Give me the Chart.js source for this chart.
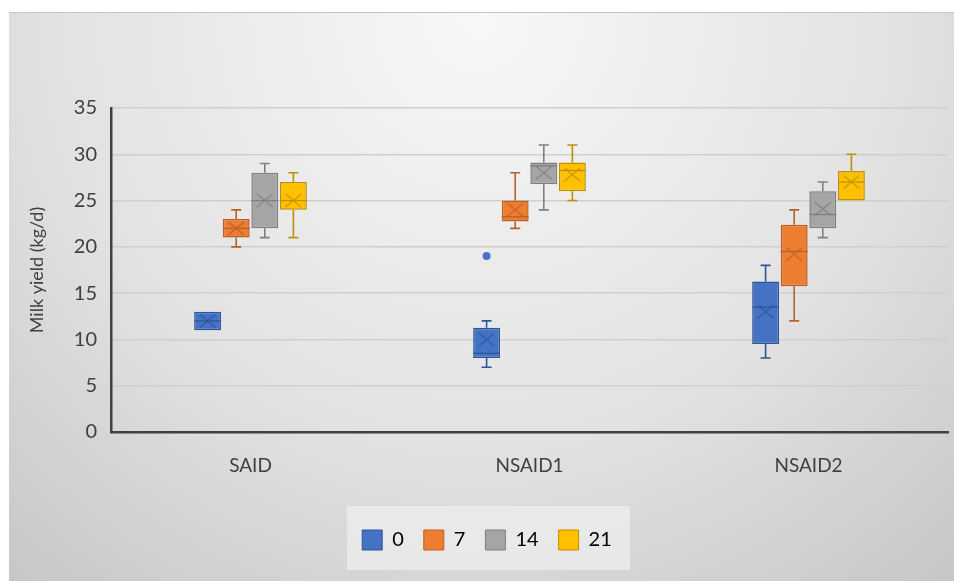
<!DOCTYPE html>
<html>
<head>
<meta charset="utf-8">
<script src="https://cdn.jsdelivr.net/npm/chart.js@4"></script>
<style>
  html, body { margin: 0; padding: 0; background: #ffffff; }
  #wrap { width: 954px; height: 581px; }
</style>
</head>
<body>
<div id="wrap"><canvas id="milkChart" width="954" height="581"></canvas></div>
<script>
// Groups and days
const groups = ['SAID', 'NSAID1', 'NSAID2'];
const days = ['0', '7', '14', '21'];

// Five-number summaries per day, one value per group
const minVals    = [[11, 7, 8],        [20, 22, 12],       [21, 24, 21],      [21, 25, 25]];
const q1Vals     = [[11, 8, 9.5],      [21, 22.75, 15.75], [22, 26.75, 22],   [24, 26, 25]];
const medianVals = [[12, 8.5, 13.5],   [22, 23.25, 19.5],  [25, 28.75, 23.5], [25, 28.25, 27]];
const q3Vals     = [[13, 11.25, 16.25],[23, 25, 22.4],     [28, 29.1, 26],    [27, 29.1, 28.2]];
const maxVals    = [[13, 12, 18],      [24, 28, 24],       [29, 31, 27],      [28, 31, 30]];
const meanVals   = [[12, 10, 13],      [22, 24, 19.2],     [25, 28, 24.1],    [25, 27.8, 27]];
// Outliers: [group index, value]
const outliers   = [[[1, 19]], [], [], []];

const yTicks = [0, 5, 10, 15, 20, 25, 30, 35];

const fillColors   = ['#4472C4', '#ED7D31', '#A5A5A5', '#FFC000'];
const strokeColors = ['#2F5597', '#B8602A', '#7F7F7F', '#BF9000'];

const FONT = 'Lato, "Open Sans", sans-serif';

// Background panel and legend frame
const backgroundPlugin = {
  id: 'panelBackground',
  beforeDraw(chart) {
    const ctx = chart.ctx;
    const w = chart.width, h = chart.height;
    ctx.save();
    ctx.fillStyle = '#ffffff';
    ctx.fillRect(0, 0, w, h);
    const g = ctx.createRadialGradient(w / 2, 20, 10, w / 2, 20, 760);
    g.addColorStop(0, '#f7f7f7');
    g.addColorStop(0.55, '#e2e2e2');
    g.addColorStop(1, '#c4c4c4');
    ctx.fillStyle = g;
    ctx.fillRect(9, 12, w - 9, h - 12);
    ctx.strokeStyle = '#c4c4c4';
    ctx.lineWidth = 1;
    ctx.beginPath();
    ctx.moveTo(9, 12.5);
    ctx.lineTo(w, 12.5);
    ctx.stroke();

    // legend frame
    ctx.fillStyle = 'rgba(235,235,235,0.85)';
    ctx.fillRect(347, 506, 283, 64);
    ctx.restore();
  }
};

// Whiskers, medians, mean markers and outliers drawn over the floating bars
const boxPlotPlugin = {
  id: 'boxWhiskers',
  afterDatasetsDraw(chart) {
    const ctx = chart.ctx;
    const y = chart.scales.y;
    ctx.save();
    chart.data.datasets.forEach((ds, di) => {
      const meta = chart.getDatasetMeta(di);
      ctx.strokeStyle = strokeColors[di];
      ctx.fillStyle = fillColors[di];
      meta.data.forEach((bar, gi) => {
        const cx = bar.x;
        const half = bar.width / 2;
        const yQ1 = y.getPixelForValue(q1Vals[di][gi]);
        const yQ3 = y.getPixelForValue(q3Vals[di][gi]);
        const yMin = y.getPixelForValue(minVals[di][gi]);
        const yMax = y.getPixelForValue(maxVals[di][gi]);
        const yMed = y.getPixelForValue(medianVals[di][gi]);
        const yMean = y.getPixelForValue(meanVals[di][gi]);
        const cap = 5;

        ctx.lineWidth = 1.6;
        ctx.beginPath();
        if (yMax < yQ3 - 0.5) {
          ctx.moveTo(cx, yQ3); ctx.lineTo(cx, yMax);
          ctx.moveTo(cx - cap, yMax); ctx.lineTo(cx + cap, yMax);
        }
        if (yMin > yQ1 + 0.5) {
          ctx.moveTo(cx, yQ1); ctx.lineTo(cx, yMin);
          ctx.moveTo(cx - cap, yMin); ctx.lineTo(cx + cap, yMin);
        }
        ctx.stroke();

        // median line
        ctx.lineWidth = 1.3;
        ctx.beginPath();
        ctx.moveTo(cx - half, yMed);
        ctx.lineTo(cx + half, yMed);
        ctx.stroke();

        // mean marker (X)
        const mx = half * 0.58, my = 6.5;
        ctx.globalAlpha = 0.75;
        ctx.lineWidth = 1.4;
        ctx.beginPath();
        ctx.moveTo(cx - mx, yMean - my); ctx.lineTo(cx + mx, yMean + my);
        ctx.moveTo(cx - mx, yMean + my); ctx.lineTo(cx + mx, yMean - my);
        ctx.stroke();
        ctx.globalAlpha = 1;
      });

      outliers[di].forEach(([gi, v]) => {
        const bar = meta.data[gi];
        ctx.beginPath();
        ctx.arc(bar.x, y.getPixelForValue(v), 4, 0, Math.PI * 2);
        ctx.fill();
      });
    });
    ctx.restore();
  }
};

const datasets = days.map((d, di) => ({
  label: d,
  data: groups.map((g, gi) => [q1Vals[di][gi], q3Vals[di][gi]]),
  backgroundColor: fillColors[di],
  borderColor: strokeColors[di],
  borderWidth: 1.5,
  borderSkipped: false,
  barPercentage: 0.94,
  categoryPercentage: 0.41
}));

new Chart(document.getElementById('milkChart'), {
  type: 'bar',
  data: { labels: groups, datasets: datasets },
  options: {
    responsive: false,
    animation: false,
    devicePixelRatio: 1,
    layout: { padding: { left: 26, right: 6, top: 108, bottom: 21 } },
    plugins: {
      tooltip: { enabled: false },
      legend: {
        position: 'bottom',
        labels: {
          color: '#404040',
          font: { family: FONT, size: 20 },
          boxWidth: 20,
          boxHeight: 20,
          padding: 20,
          generateLabels(chart) {
            return days.map((d, i) => ({
              text: d,
              fillStyle: fillColors[i],
              strokeStyle: strokeColors[i],
              lineWidth: 1,
              datasetIndex: i
            }));
          }
        }
      }
    },
    scales: {
      x: {
        afterFit(scale) { scale.height = 78; },
        grid: { display: false, drawTicks: false },
        border: { display: true, color: '#404040', width: 2.5 },
        ticks: { color: '#404040', font: { family: FONT, size: 19 }, padding: 22 }
      },
      y: {
        min: 0,
        max: 35,
        afterFit(scale) { scale.width = 85; },
        afterBuildTicks(scale) { scale.ticks = yTicks.map(v => ({ value: v })); },
        grid: { color: '#cfcfcf', lineWidth: 1.5, drawTicks: false },
        border: { display: true, color: '#404040', width: 2.5 },
        ticks: { color: '#404040', font: { family: FONT, size: 20 }, padding: 14 },
        title: {
          display: true,
          text: 'Milk yield (kg/d)',
          color: '#404040',
          font: { family: FONT, size: 18 },
          padding: { top: 0, bottom: 8 }
        }
      }
    }
  },
  plugins: [backgroundPlugin, boxPlotPlugin]
});
</script>
</body>
</html>
